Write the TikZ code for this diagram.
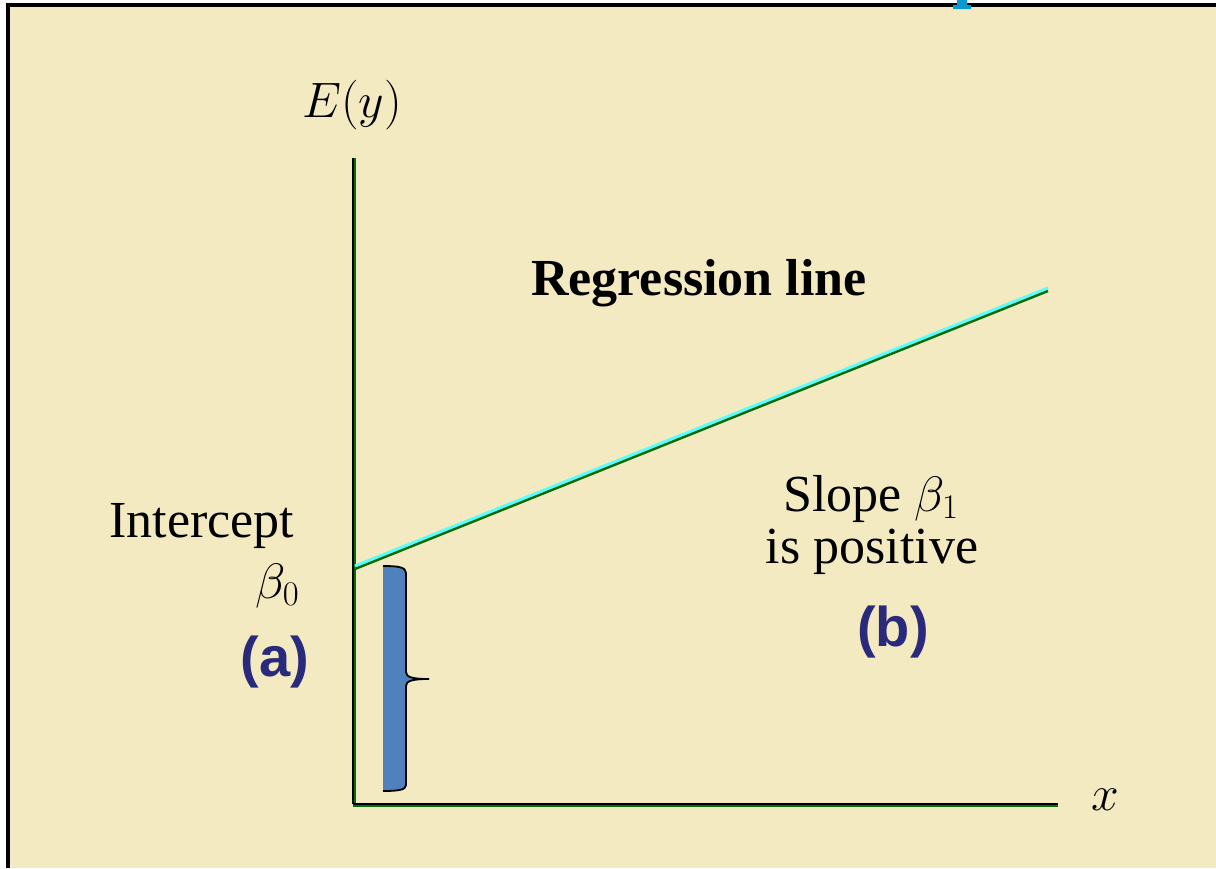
\documentclass[tikz,border=0pt]{standalone}
\usepackage{fontspec}
\setmainfont{Liberation Serif}
\newfontfamily\tagfont{Liberation Sans}
\usetikzlibrary{positioning}
\definecolor{slbg}{HTML}{F3EAC2}
\definecolor{slgreen}{HTML}{0A6A0A}
\definecolor{slcyan}{HTML}{55FFFF}
\definecolor{slbrace}{HTML}{4F81BD}
\definecolor{slnavy}{HTML}{2A2A7C}
\definecolor{sltitle}{HTML}{0B9AD0}
\tikzset{
  axblack/.style={line width=1.1pt,black},
  axgreen/.style={line width=1.1pt,slgreen},
  txt/.style={font=\fontsize{26}{30}\selectfont,inner sep=0pt,anchor=base},
  boldtxt/.style={txt,font=\fontsize{26}{30}\selectfont\bfseries},
  tag/.style={font=\tagfont\fontsize{28}{32}\selectfont\bfseries,text=slnavy,inner sep=0pt},
}
\begin{document}
\begin{tikzpicture}[x=0.5pt,y=-0.5pt]
    \useasboundingbox (0,0) rectangle (1216,868);
    \fill[white] (0,0) rectangle (1216,868);
    \fill[slbg] (8,5) rectangle (1216,868);
    \draw[line width=1.6pt] (8,868) -- (8,5) -- (1216,5);
    % cut-off title letter
    \fill[sltitle] (957,0) -- (967,0) -- (967,5) -- (971,5) -- (971,9) -- (953,9) -- (953,5) -- (957,5) -- cycle;
    % axes
    \coordinate (org) at (353,804);
    \coordinate (ytop) at (353,158);
    \coordinate (xend) at (1058,804);
    \draw[axgreen] ([xshift=1pt]ytop) -- ([xshift=1pt]org);
    \draw[axblack] (ytop) -- (org);
    \draw[axgreen] ([yshift=-1pt]org) -- ([yshift=-1pt]xend);
    \draw[axblack] (org) -- (xend);
    % regression line
    \coordinate (ra) at (355,569);
    \coordinate (rb) at (1048,291);
    \draw[line width=1.5pt,slcyan] ([yshift=1.5pt]ra) -- ([yshift=1.5pt]rb);
    \draw[line width=1.2pt,slgreen] (ra) -- (rb);
    % brace for the intercept
    \fill[slbrace] (383,566) .. controls (398,566) and (406,567) .. (406,573) -- (406,672)
      .. controls (406,677) and (412,679) .. (429,679) .. controls (412,679) and (406,681) .. (406,686)
      -- (406,785) .. controls (406,790) and (398,791) .. (383,791) -- cycle;
    \draw[line width=0.9pt] (383,566) .. controls (398,566) and (406,567) .. (406,573) -- (406,672)
      .. controls (406,677) and (412,679) .. (429,679) .. controls (412,679) and (406,681) .. (406,686)
      -- (406,785) .. controls (406,790) and (398,791) .. (383,791);
    % labels
    \node[txt] (ey) at (352,117) {$E(y)$};
    \node[txt] (xl) at (1105,810) {$x$};
    \node[boldtxt] (reg) at (699,295) {Regression line};
    \node[txt] (icpt) at (202,537) {Intercept};
    \node[txt,anchor=base east] (b0) at (300,598) {$\beta_0$};
    \node[tag] (ta) at (275,662) {(a)};
    \node[txt] (slope) at (871,511) {Slope $\beta_1$};
    \node[txt] (pos) at (872,563) {is positive};
    \node[tag] (tb) at (893,632) {(b)};
\end{tikzpicture}
\end{document}
